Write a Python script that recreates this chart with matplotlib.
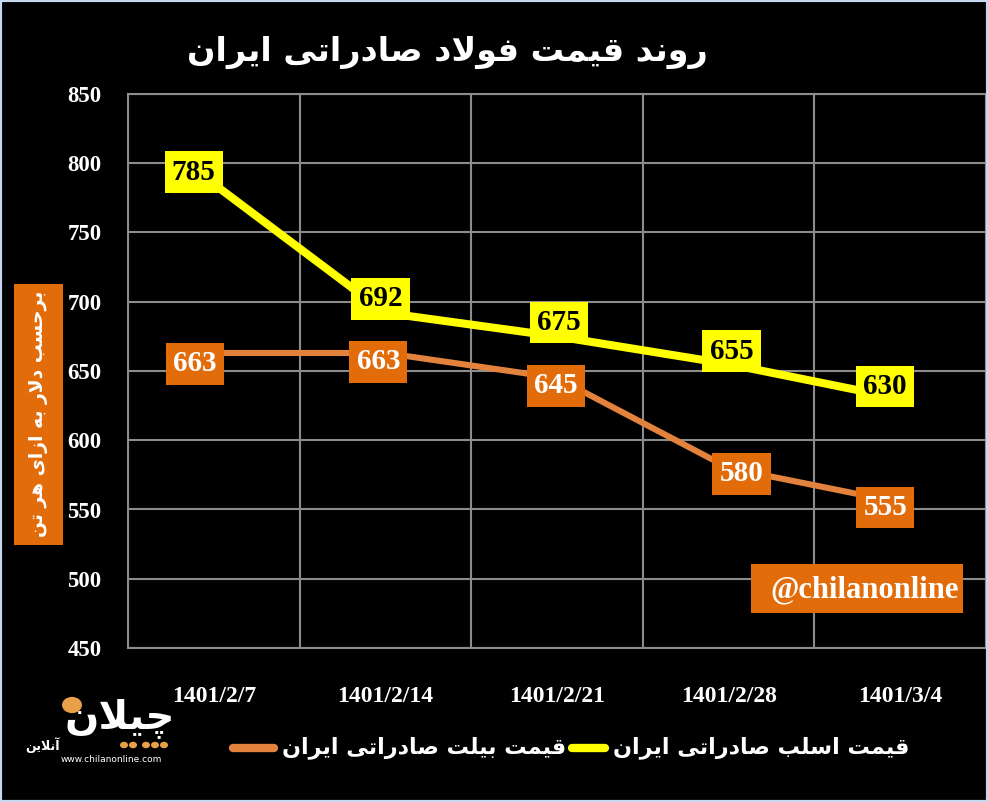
import matplotlib
matplotlib.use('Agg')
import matplotlib.pyplot as plt
from matplotlib.patches import Rectangle, Circle
from matplotlib.lines import Line2D

# data to plot
dates = ['1401/2/7', '1401/2/14', '1401/2/21', '1401/2/28', '1401/3/4']
slab = [785, 692, 675, 655, 630]
billet = [663, 663, 645, 580, 555]

title = 'روند قیمت فولاد صادراتی ایران'
ylabel = 'برحسب دلار به ازای هر تن'
slab_name = 'قیمت اسلب صادراتی ایران'
billet_name = 'قیمت بیلت صادراتی ایران'
handle = '@chilanonline'

# label offsets in pixels (Excel had them moved by hand)
slab_offsets = [(-20, 12), (-5, 14), (2, 14), (3, 13), (-15, 12)]
billet_offsets = [(-19, -11), (-7, -9), (-1, -8), (13, -6), (-15, -5)]

# presentation forms: iso, fin, ini, med
FORMS = {
    'ا': '\uFE8D\uFE8E', 'آ': '\uFE81\uFE82',
    'ب': '\uFE8F\uFE90\uFE91\uFE92', 'ت': '\uFE95\uFE96\uFE97\uFE98',
    'ح': '\uFEA1\uFEA2\uFEA3\uFEA4', 'چ': '\uFB7A\uFB7B\uFB7C\uFB7D',
    'د': '\uFEA9\uFEAA', 'ر': '\uFEAD\uFEAE', 'ز': '\uFEAF\uFEB0',
    'س': '\uFEB1\uFEB2\uFEB3\uFEB4', 'ص': '\uFEB9\uFEBA\uFEBB\uFEBC',
    'ف': '\uFED1\uFED2\uFED3\uFED4', 'ق': '\uFED5\uFED6\uFED7\uFED8',
    'ل': '\uFEDD\uFEDE\uFEDF\uFEE0', 'م': '\uFEE1\uFEE2\uFEE3\uFEE4',
    'ن': '\uFEE5\uFEE6\uFEE7\uFEE8', 'ه': '\uFEE9\uFEEA\uFEEB\uFEEC',
    'و': '\uFEED\uFEEE', 'ی': '\uFBFC\uFBFD\uFBFE\uFBFF',
}
LAM_ALEF = {'ا': '\uFEFB\uFEFC', 'آ': '\uFEF5\uFEF6'}


def shape(s):
    # join letters and reverse, matplotlib has no bidi / shaping
    toks = []
    i = 0
    while i < len(s):
        if s[i] == 'ل' and i + 1 < len(s) and s[i + 1] in LAM_ALEF:
            toks.append(LAM_ALEF[s[i + 1]])
            i += 2
        else:
            toks.append(FORMS.get(s[i], s[i]))
            i += 1

    def joins(t):
        return len(t) >= 2

    out = []
    for k, t in enumerate(toks):
        if not joins(t):
            out.append(t)
            continue
        prev = k > 0 and len(toks[k - 1]) == 4
        nxt = len(t) == 4 and k + 1 < len(toks) and joins(toks[k + 1])
        if len(t) == 2:
            out.append(t[1] if prev else t[0])
        elif prev and nxt:
            out.append(t[3])
        elif prev:
            out.append(t[1])
        elif nxt:
            out.append(t[2])
        else:
            out.append(t[0])
    return ''.join(reversed(out))


W, H = 988, 802
fig = plt.figure(figsize=(W / 100, H / 100), dpi=100)
fig.patch.set_facecolor('black')
ax = fig.add_axes([128 / W, 1 - 648 / H, 858 / W, 554 / H])
ax.set_facecolor('black')

x = list(range(len(dates)))
yellow = '#FFFF00'
orange_line = '#E3823C'
orange_box = '#E36C0A'
grid_col = '#8C8C8C'

ax.plot(x, slab, color=yellow, lw=5.8, solid_capstyle='butt', zorder=3)
ax.plot(x, billet, color=orange_line, lw=4.4, solid_capstyle='butt', zorder=3)

serif = 'Liberation Serif'
for xi, v, off in zip(x, slab, slab_offsets):
    ax.annotate(str(v), (xi, v), xytext=off, textcoords='offset pixels',
                ha='center', va='center', fontsize=21, fontweight='bold',
                family=serif, color='black', zorder=5,
                bbox=dict(boxstyle='square,pad=0.25', fc=yellow, ec='none'))
for xi, v, off in zip(x, billet, billet_offsets):
    ax.annotate(str(v), (xi, v), xytext=off, textcoords='offset pixels',
                ha='center', va='center', fontsize=21, fontweight='bold',
                family=serif, color='white', zorder=5,
                bbox=dict(boxstyle='square,pad=0.25', fc=orange_box, ec='none'))

ax.set_xlim(-0.5, len(dates) - 0.5)
ax.set_ylim(450, 850)
ax.set_yticks(range(450, 851, 50))
ax.set_xticks(x)
ax.set_xticklabels(dates)
ax.set_xticks([i - 0.5 for i in range(len(dates) + 1)], minor=True)
ax.grid(True, which='minor', axis='x', color=grid_col, lw=1.5)
ax.grid(True, which='major', axis='y', color=grid_col, lw=1.5)
ax.tick_params(which='both', length=0)
ax.tick_params(axis='y', pad=19, labelsize=16.5, labelcolor='white')
ax.tick_params(axis='x', pad=27, labelsize=17, labelcolor='white')
for lab in ax.get_xticklabels() + ax.get_yticklabels():
    lab.set_family(serif)
    lab.set_fontweight('bold')
for sp in ax.spines.values():
    sp.set_color(grid_col)
    sp.set_linewidth(1.5)

# title
fig.text(447 / W, 1 - 52 / H, shape(title), ha='center', va='center',
         color='white', fontsize=24, fontweight='bold', family='DejaVu Sans')

# y label box
fig.patches.append(Rectangle((14 / W, 1 - 545 / H), 49 / W, 261 / H,
                             transform=fig.transFigure, fc=orange_box, ec='none'))
fig.text(39 / W, 1 - 414 / H, shape(ylabel), rotation=90, ha='center', va='center',
         color='white', fontsize=13.5, fontweight='bold', family='DejaVu Sans')

# watermark
fig.patches.append(Rectangle((751 / W, 1 - 613 / H), 212 / W, 49 / H,
                             transform=fig.transFigure, fc=orange_box, ec='none', zorder=6))
fig.text(865 / W, 1 - 590 / H, handle, ha='center', va='center', color='white',
         fontsize=22, fontweight='bold', family=serif, zorder=7)

# legend, right to left
ly = 1 - 748 / H
fig.text(909 / W, ly, shape(slab_name), ha='right', va='center', color='white',
         fontsize=16, fontweight='bold', family='DejaVu Sans')
fig.lines.append(Line2D([572 / W, 605 / W], [ly, ly], transform=fig.transFigure,
                        color=yellow, lw=6, solid_capstyle='round'))
fig.text(566 / W, ly, shape(billet_name), ha='right', va='center', color='white',
         fontsize=16, fontweight='bold', family='DejaVu Sans')
fig.lines.append(Line2D([233 / W, 274 / W], [ly, ly], transform=fig.transFigure,
                        color=orange_line, lw=6, solid_capstyle='round'))

# logo
fig.text(120 / W, 1 - 718 / H, shape('چیلان'), ha='center', va='center', color='white',
         fontsize=29, fontweight='bold', family='DejaVu Sans')
fig.patches.append(Circle((72 / W, 1 - 705 / H), 10 / W, transform=fig.transFigure,
                          fc='#E8A048', ec='none'))
for dx in (124, 133, 146, 155, 164):
    fig.patches.append(Circle((dx / W, 1 - 745 / H), 4 / W, transform=fig.transFigure,
                              fc='#E8A048', ec='none'))
fig.text(42 / W, 1 - 745 / H, shape('آنلاین'), ha='center', va='center', color='white',
         fontsize=9, fontweight='bold', family='DejaVu Sans')
fig.text(111 / W, 1 - 760 / H, 'www.chilanonline.com', ha='center', va='center',
         color='white', fontsize=6.5, family='DejaVu Sans')

# thin light-blue frame
fig.patches.append(Rectangle((0, 0), 1, 1, transform=fig.transFigure, fc='none',
                             ec='#C6D9F0', lw=3))

fig.savefig('out.png', dpi=100, facecolor='black')
